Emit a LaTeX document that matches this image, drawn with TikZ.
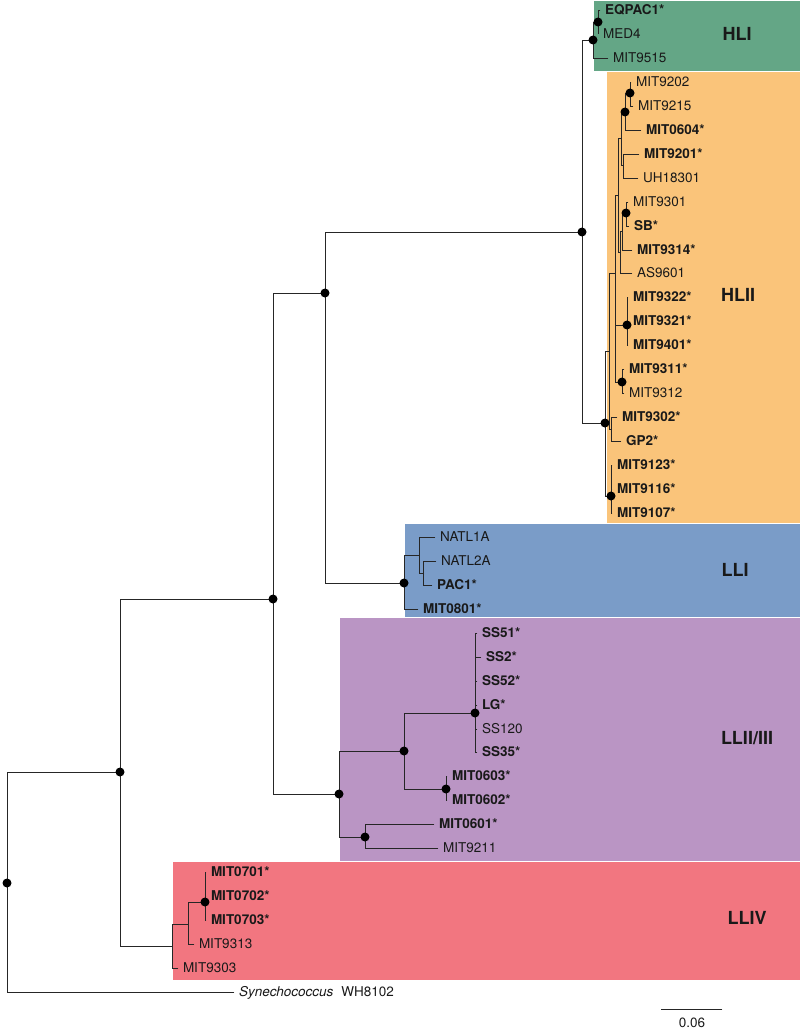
\documentclass[tikz,border=0pt]{standalone}
\usepackage{fontspec}
\setmainfont{TeX Gyre Heros}
\definecolor{cHLI}{HTML}{64A686}
\definecolor{cHLII}{HTML}{FAC47A}
\definecolor{cLLI}{HTML}{7A9CC8}
\definecolor{cLLII}{HTML}{BA95C4}
\definecolor{cLLIV}{HTML}{F27680}
\begin{document}
\begin{tikzpicture}[x=1pt,y=-1pt,
  tree/.style={line width=0.9pt, black!85, line cap=rect},
  leaf/.style={anchor=west, inner xsep=5pt, inner ysep=0pt, outer sep=0pt, text height=9.7pt, text depth=0pt, font=\fontsize{13.5}{16}\selectfont, text=black!90},
  bleaf/.style={leaf, font=\fontsize{13.5}{16}\selectfont\bfseries},
  dot/.style={circle, fill=black, inner sep=0pt, minimum size=9pt},
  clade/.style={font=\fontsize{18}{20}\selectfont\bfseries, text=black!90},
  band/.style={draw=white, line width=0.6pt}
]
\useasboundingbox (0,0) rectangle (800,1030);
% clade bands
\path[band, fill=cHLI] (593,0) rectangle (800,71);
\path[band, fill=cHLII] (606,71) rectangle (800,523);
\path[band, fill=cLLI] (404,523) rectangle (800,617);
\path[band, fill=cLLII] (339,617) rectangle (800,861);
\path[band, fill=cLLIV] (172,861) rectangle (800,980);
% clade labels
\node[clade] (lHLI) at (737,34) {HLI};
\node[clade] (lHLII) at (738,295) {HLII};
\node[clade] (lLLI) at (735,570) {LLI};
\node[clade] (lLLII) at (747,738) {LLII/III};
\node[clade] (lLLIV) at (747,918) {LLIV};
% internal nodes
\coordinate (root) at (7,883);
\coordinate (A) at (120,772);
\coordinate (B) at (273,599);
\coordinate (F) at (325,293);
\coordinate (G) at (582,232);
\coordinate (H1) at (593,40);
\coordinate (H2) at (598,22);
\coordinate (R) at (605,423);
\coordinate (l) at (609,351);
\coordinate (k) at (615,273);
\coordinate (h) at (618,195);
\coordinate (d) at (621,138);
\coordinate (b) at (625,112);
\coordinate (a) at (630,93);
\coordinate (c) at (623,165);
\coordinate (g) at (620,252);
\coordinate (f) at (622,231);
\coordinate (e) at (626,213);
\coordinate (i) at (627,325);
\coordinate (j) at (622,382);
\coordinate (G2) at (611,429);
\coordinate (G1) at (611,496);
\coordinate (L) at (404,583);
\coordinate (m) at (419,555);
\coordinate (n) at (423,573);
\coordinate (P) at (339,794);
\coordinate (Q) at (404,751);
\coordinate (S) at (475,713);
\coordinate (T) at (446,789);
\coordinate (U) at (365,837);
\coordinate (C) at (172,946);
\coordinate (D) at (188,924);
\coordinate (E) at (205,902);
% leaves
\node[bleaf] (EQPAC1) at (600,10) {EQPAC1*};
\node[leaf] (MED4) at (598,34) {MED4};
\node[leaf] (MIT9515) at (608,58) {MIT9515};
\node[leaf] (MIT9202) at (631,82) {MIT9202};
\node[leaf] (MIT9215) at (633,106) {MIT9215};
\node[bleaf] (MIT0604) at (641,130) {MIT0604*};
\node[bleaf] (MIT9201) at (639,154) {MIT9201*};
\node[leaf] (UH18301) at (638,178) {UH18301};
\node[leaf] (MIT9301) at (628,202) {MIT9301};
\node[bleaf] (SB) at (629,226) {SB*};
\node[bleaf] (MIT9314) at (632,250) {MIT9314*};
\node[leaf] (AS9601) at (632,273) {AS9601};
\node[bleaf] (MIT9322) at (628,297) {MIT9322*};
\node[bleaf] (MIT9321) at (628,321) {MIT9321*};
\node[bleaf] (MIT9401) at (628,345) {MIT9401*};
\node[bleaf] (MIT9311) at (624,369) {MIT9311*};
\node[leaf] (MIT9312) at (624,393) {MIT9312};
\node[bleaf] (MIT9302) at (617,417) {MIT9302*};
\node[bleaf] (GP2) at (621,441) {GP2*};
\node[bleaf] (MIT9123) at (612,465) {MIT9123*};
\node[bleaf] (MIT9116) at (612,489) {MIT9116*};
\node[bleaf] (MIT9107) at (612,513) {MIT9107*};
\node[leaf] (NATL1A) at (435,537) {NATL1A};
\node[leaf] (NATL2A) at (436,561) {NATL2A};
\node[bleaf] (PAC1) at (432,585) {PAC1*};
\node[bleaf] (MIT0801) at (418,609) {MIT0801*};
\node[bleaf] (SS51) at (477,633) {SS51*};
\node[bleaf] (SS2) at (481,657) {SS2*};
\node[bleaf] (SS52) at (477,681) {SS52*};
\node[bleaf] (LG) at (477,705) {LG*};
\node[leaf] (SS120) at (477,729) {SS120};
\node[bleaf] (SS35) at (477,752) {SS35*};
\node[bleaf] (MIT0603) at (447,776) {MIT0603*};
\node[bleaf] (MIT0602) at (447,800) {MIT0602*};
\node[bleaf] (MIT0601) at (434,824) {MIT0601*};
\node[leaf] (MIT9211) at (438,848) {MIT9211};
\node[bleaf] (MIT0701) at (206,872) {MIT0701*};
\node[bleaf] (MIT0702) at (206,896) {MIT0702*};
\node[bleaf] (MIT0703) at (206,920) {MIT0703*};
\node[leaf] (MIT9313) at (194,944) {MIT9313};
\node[leaf] (MIT9303) at (178,968) {MIT9303};
\node[leaf] (Syn) at (234,992) {\textit{Synechococcus}\hspace{8pt}WH8102};
% branches
\draw[tree] (root) |- (A);
\draw[tree] (root) |- (Syn.west);
\draw[tree] (A) |- (B);
\draw[tree] (A) |- (C);
\draw[tree] (B) |- (F);
\draw[tree] (B) |- (P);
\draw[tree] (F) |- (G);
\draw[tree] (F) |- (L);
\draw[tree] (G) |- (H1);
\draw[tree] (G) |- (R);
\draw[tree] (H1) |- (H2);
\draw[tree] (H1) |- (MIT9515.west);
\draw[tree] (H2) |- (EQPAC1.west);
\draw[tree] (H2) |- (MED4.west);
\draw[tree] (R) |- (l);
\draw[tree] (R) |- (G1);
\draw[tree] (l) |- (k);
\draw[tree] (l) |- (G2);
\draw[tree] (k) |- (h);
\draw[tree] (k) |- (i);
\draw[tree] (k) |- (j);
\draw[tree] (h) |- (d);
\draw[tree] (h) |- (g);
\draw[tree] (d) |- (b);
\draw[tree] (d) |- (c);
\draw[tree] (b) |- (a);
\draw[tree] (b) |- (MIT0604.west);
\draw[tree] (a) |- (MIT9202.west);
\draw[tree] (a) |- (MIT9215.west);
\draw[tree] (c) |- (MIT9201.west);
\draw[tree] (c) |- (UH18301.west);
\draw[tree] (g) |- (f);
\draw[tree] (g) |- (AS9601.west);
\draw[tree] (f) |- (e);
\draw[tree] (f) |- (MIT9314.west);
\draw[tree] (e) |- (MIT9301.west);
\draw[tree] (e) |- (SB.west);
\draw[tree] (i) |- (MIT9322.west);
\draw[tree] (i) |- (MIT9321.west);
\draw[tree] (i) |- (MIT9401.west);
\draw[tree] (j) |- (MIT9311.west);
\draw[tree] (j) |- (MIT9312.west);
\draw[tree] (G2) |- (MIT9302.west);
\draw[tree] (G2) |- (GP2.west);
\draw[tree] (G1) |- (MIT9123.west);
\draw[tree] (G1) |- (MIT9116.west);
\draw[tree] (G1) |- (MIT9107.west);
\draw[tree] (L) |- (m);
\draw[tree] (L) |- (MIT0801.west);
\draw[tree] (m) |- (NATL1A.west);
\draw[tree] (m) |- (n);
\draw[tree] (n) |- (NATL2A.west);
\draw[tree] (n) |- (PAC1.west);
\draw[tree] (P) |- (Q);
\draw[tree] (P) |- (U);
\draw[tree] (Q) |- (S);
\draw[tree] (Q) |- (T);
\draw[tree] (S) |- (SS51.west);
\draw[tree] (S) |- (SS2.west);
\draw[tree] (S) |- (SS52.west);
\draw[tree] (S) |- (LG.west);
\draw[tree] (S) |- (SS120.west);
\draw[tree] (S) |- (SS35.west);
\draw[tree] (T) |- (MIT0603.west);
\draw[tree] (T) |- (MIT0602.west);
\draw[tree] (U) |- (MIT0601.west);
\draw[tree] (U) |- (MIT9211.west);
\draw[tree] (C) |- (D);
\draw[tree] (C) |- (MIT9303.west);
\draw[tree] (D) |- (E);
\draw[tree] (D) |- (MIT9313.west);
\draw[tree] (E) |- (MIT0701.west);
\draw[tree] (E) |- (MIT0702.west);
\draw[tree] (E) |- (MIT0703.west);
% support dots
\foreach \p in {root,A,B,F,G,H1,H2,R,b,a,e,i,j,G1,L,P,Q,S,T,U,E}
  \node[dot] (dot\p) at (\p) {};
% scale bar
\coordinate (sb1) at (661,1009);
\coordinate (sb2) at (722,1009);
\draw[tree] (sb1) -- (sb2);
\node[font=\fontsize{13.5}{16}\selectfont, text=black!90] (sblabel) at (692,1023) {0.06};
\end{tikzpicture}
\end{document}
